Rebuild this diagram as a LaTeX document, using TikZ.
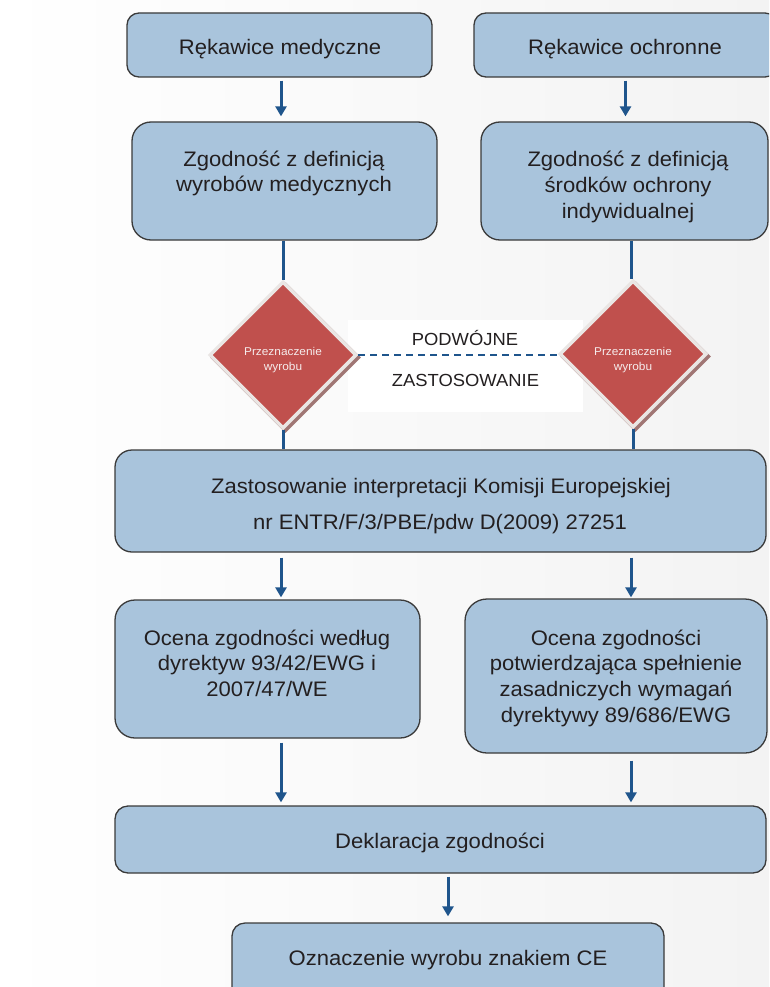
\documentclass[tikz,border=0pt]{standalone}
\usepackage{fontspec}
\setmainfont{Liberation Sans}[FakeStretch=1.05]
\usetikzlibrary{arrows.meta,shapes.geometric}
\definecolor{boxfill}{RGB}{169,196,220}
\definecolor{boxdraw}{RGB}{58,58,58}
\definecolor{arrblue}{RGB}{31,85,140}
\definecolor{txtc}{RGB}{35,31,32}
\definecolor{dred}{RGB}{192,80,77}
\definecolor{dborder}{RGB}{234,230,228}
\definecolor{dshadow}{RGB}{160,118,116}
\definecolor{dtext}{RGB}{246,236,236}
\definecolor{bgr}{RGB}{243,243,243}
\begin{document}
\begin{tikzpicture}[x=1pt,y=-1pt,
  box/.style={draw=boxdraw, fill=boxfill, line width=1.3pt, inner sep=0pt},
  tx/.style={anchor=base, inner sep=0pt, text=txtc, font=\fontsize{21}{25}\selectfont},
  dtx/.style={anchor=base, inner sep=0pt, text=dtext, font=\fontsize{11.3}{14}\selectfont},
  ptx/.style={anchor=base, inner sep=0pt, text=txtc, font=\fontsize{17.5}{20}\selectfont},
  dia/.style={diamond, aspect=1, minimum width=147pt, minimum height=147pt, inner sep=0pt},
  arr/.style={draw=arrblue, line width=3pt, -{Triangle[width=11pt,length=10pt]}},
  lnk/.style={draw=arrblue, line width=3pt},
  dsh/.style={draw=arrblue, line width=2pt, dash pattern=on 7pt off 5pt}
]
\useasboundingbox (0,0) rectangle (769,987);
\clip (0,0) rectangle (769,987);
\begin{scope}[y=1pt]
\shade[left color=white, right color=bgr] (0,0) rectangle (769,-987);
\end{scope}

\coordinate (cl) at (281,0);
\coordinate (cr) at (631,0);

% boxes
\node[box, rounded corners=12pt, minimum width=305pt, minimum height=64pt] (b1) at (279.5,45) {};
\node[box, rounded corners=12pt, minimum width=303pt, minimum height=64pt] (b2) at (625.5,45) {};
\node[box, rounded corners=19pt, minimum width=305pt, minimum height=118pt] (b3) at (284.5,181) {};
\node[box, rounded corners=19pt, minimum width=287pt, minimum height=118pt] (b4) at (624.5,181) {};
\node[box, rounded corners=17pt, minimum width=651pt, minimum height=102pt] (b5) at (440.5,501) {};
\node[box, rounded corners=20pt, minimum width=305pt, minimum height=138pt] (b6) at (267.5,669) {};
\node[box, rounded corners=22pt, minimum width=302pt, minimum height=154pt] (b7) at (616,676) {};
\node[box, rounded corners=13pt, minimum width=651pt, minimum height=67pt] (b8) at (440.5,839.5) {};
\node[box, rounded corners=13pt, minimum width=432pt, minimum height=80pt] (b9) at (448,963) {};

% texts
\node[tx] (t1) at (280,55) {Rękawice medyczne};
\node[tx] (t2) at (625,55) {Rękawice ochronne};
\node[tx] (t3a) at (284,167) {Zgodność z definicją};
\node[tx] (t3b) at (284,192) {wyrobów medycznych};
\node[tx] (t4a) at (628,167) {Zgodność z definicją};
\node[tx] (t4b) at (628,192.5) {środków ochrony};
\node[tx] (t4c) at (628,218) {indywidualnej};
\node[tx] (t5a) at (441,493) {Zastosowanie interpretacji Komisji Europejskiej};
\node[tx] (t5b) at (440,529) {nr ENTR/F/3/PBE/pdw D(2009) 27251};
\node[tx] (t6a) at (267,645) {Ocena zgodności według};
\node[tx] (t6b) at (267,670.5) {dyrektyw 93/42/EWG i};
\node[tx] (t6c) at (267,696) {2007/47/WE};
\node[tx] (t7a) at (616,645) {Ocena zgodności};
\node[tx] (t7b) at (616,670.7) {potwierdzająca spełnienie};
\node[tx] (t7c) at (616,696.4) {zasadniczych wymagań};
\node[tx] (t7d) at (616,722) {dyrektywy 89/686/EWG};
\node[tx] (t8) at (440,848) {Deklaracja zgodności};
\node[tx] (t9) at (448,965) {Oznaczenie wyrobu znakiem CE};

% white band with label
\node[fill=white, inner sep=0pt, minimum width=235pt, minimum height=92pt] (wr) at (465.5,366) {};
\node[ptx] (pw1) at (465,345) {PODWÓJNE};
\node[ptx] (pw2) at (465.5,386.5) {ZASTOSOWANIE};

% diamonds
\node[dia, fill=dshadow, minimum width=151pt, minimum height=151pt] (dLs) at (285.5,357.5) {};
\node[dia, fill=dred, draw=dborder, line width=3.5pt] (dL) at (283,355) {};
\node[dia, fill=dshadow, minimum width=151pt, minimum height=151pt] (dRs) at (635.5,356.5) {};
\node[dia, fill=dred, draw=dborder, line width=3.5pt] (dR) at (633,354) {};
\node[dtx] (dLt1) at (283,355) {Przeznaczenie};
\node[dtx] (dLt2) at (283,370) {wyrobu};
\node[dtx] (dRt1) at (633,355) {Przeznaczenie};
\node[dtx] (dRt2) at (633,370) {wyrobu};

% connectors
\draw[dsh] (dL.east) -- (dR.west |- dL.east);
\draw[arr, shorten <=3pt, shorten >=5pt] (b1.south -| cl) -- (b3.north -| cl);
\draw[arr, shorten <=3pt, shorten >=5pt] (b2.south) -- (b4.north -| b2.south);
\draw[lnk] (b3.south -| dL.north) -- (dL.north);
\draw[lnk] (b4.south -| cr) -- (dR.north -| cr);
\draw[lnk] (dL.south) -- (b5.north -| dL.south);
\draw[lnk] (dR.south) -- (b5.north -| dR.south);
\draw[arr, shorten <=5pt, shorten >=2pt] (b5.south -| cl) -- (b6.north -| cl);
\draw[arr, shorten <=5pt, shorten >=1pt] (b5.south -| cr) -- (b7.north -| cr);
\draw[arr, shorten <=4pt, shorten >=3pt] (b6.south -| cl) -- (b8.north -| cl);
\draw[arr, shorten <=7pt, shorten >=3pt] (b7.south -| cr) -- (b8.north -| cr);
\draw[arr, shorten <=3pt, shorten >=6pt] (b8.south -| b9.north) -- (b9.north);
\end{tikzpicture}
\end{document}
